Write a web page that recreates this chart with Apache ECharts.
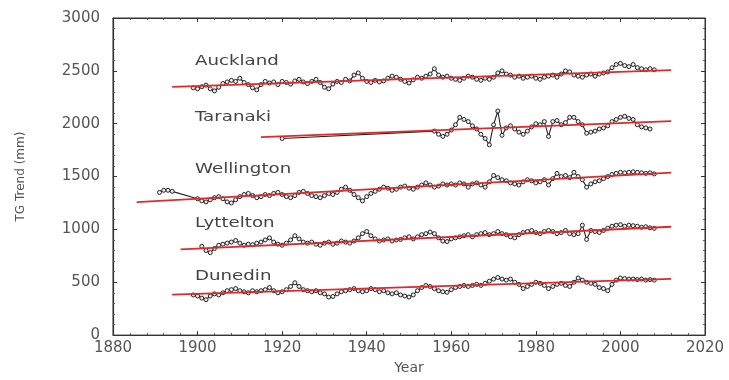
<!DOCTYPE html>
<html><head><meta charset="utf-8">
<script src="https://cdn.jsdelivr.net/npm/echarts@6/dist/echarts.min.js"></script>
<style>html,body{margin:0;padding:0;background:#fff}#c{width:729px;height:380px}</style>
</head><body><div id="c"></div>
<script>
// ---- data ----
const stationNames = ["Auckland", "Taranaki", "Wellington", "Lyttelton", "Dunedin"];

const aucklandStart = 1899;
const aucklandValues = [2340,2330,2350,2365,2330,2310,2345,2380,2395,2410,2400,2430,2390,2370,2340,2320,2370,2400,2385,2395,
2370,2400,2390,2375,2405,2420,2395,2380,2400,2420,2390,2345,2330,2375,2400,2390,2420,2405,2460,2480,
2430,2400,2390,2410,2395,2405,2430,2450,2440,2420,2400,2385,2415,2440,2430,2450,2470,2520,2460,2440,
2450,2430,2420,2410,2430,2450,2440,2420,2410,2430,2420,2440,2480,2500,2470,2460,2440,2450,2430,2440,
2450,2430,2420,2440,2450,2460,2440,2470,2500,2490,2460,2450,2440,2460,2470,2450,2470,2480,2490,2530,
2560,2570,2550,2540,2560,2530,2520,2510,2520,2510];

const taranakiYears = [1920,1956,1957,1958,1959,1960,1961,1962,1963,1964,1965,1966,1967,1968,1969,1970,1971,1972,1973,1974,1975,
1976,1977,1978,1979,1980,1981,1982,1983,1984,1985,1986,1987,1988,1989,1990,1991,1992,1993,1994,1995,1996,1997,1998,1999,
2000,2001,2002,2003,2004,2005,2006,2007];
const taranakiValues = [1860,1930,1900,1880,1900,1940,1990,2060,2040,2020,1980,1950,1900,1860,1800,1990,2120,1890,1960,1980,1950,
1920,1900,1930,1970,2000,1990,2020,1880,2020,2030,1990,2010,2060,2060,2020,1990,1910,1920,1930,1950,1960,1980,2020,2040,
2060,2070,2050,2040,1990,1970,1960,1950];

const wellingtonEarlyYears = [1891,1892,1893,1894];
const wellingtonEarlyValues = [1350,1370,1370,1360];
const wellingtonStart = 1900;
const wellingtonValues = [1290,1270,1260,1280,1300,1310,1290,1260,1250,1280,1310,1330,1340,1320,1300,1310,1330,1320,1340,1350,
1330,1310,1300,1320,1350,1360,1340,1320,1310,1300,1320,1340,1330,1350,1380,1400,1370,1330,1300,1270,
1310,1340,1360,1380,1400,1390,1370,1380,1400,1410,1390,1380,1400,1420,1440,1420,1400,1410,1430,1420,
1430,1420,1440,1430,1400,1430,1440,1420,1400,1450,1510,1490,1470,1460,1440,1430,1420,1450,1470,1460,
1440,1450,1470,1420,1480,1530,1500,1510,1490,1540,1500,1470,1400,1430,1450,1460,1480,1500,1520,1530,
1540,1535,1540,1545,1540,1535,1530,1535,1525];

const lytteltonStart = 1901;
const lytteltonValues = [840,800,780,820,850,860,870,880,895,870,850,860,855,870,880,900,920,880,860,850,
870,900,940,910,880,870,880,860,850,870,880,860,870,890,880,870,890,920,960,980,
940,910,890,900,910,890,900,905,920,930,910,930,950,960,975,960,920,890,885,910,
920,930,940,950,930,950,960,970,950,960,980,960,950,930,920,950,970,980,990,970,
960,980,990,980,960,970,990,960,950,960,1040,905,990,980,970,990,1010,1030,1040,1045,
1030,1040,1035,1030,1020,1025,1015,1010];

const dunedinStart = 1899;
const dunedinValues = [380,370,350,335,370,390,380,400,420,430,440,420,410,400,420,410,420,430,450,420,
400,410,430,460,495,460,430,420,410,420,400,390,360,365,390,410,420,430,440,420,
410,420,440,430,410,420,400,390,400,380,370,360,380,420,450,470,460,440,420,410,
405,430,450,460,470,460,470,480,470,490,510,530,545,530,520,530,500,480,440,460,
480,500,490,470,440,460,480,490,470,460,500,540,520,500,490,480,450,440,420,480,
520,540,535,530,530,525,530,520,525,520];

// trend lines: [startYear, startValue, endYear, endValue]
const aucklandTrend = [1894, 2348, 2012, 2507];
const taranakiTrend = [1915, 1873, 2012, 2025];
const wellingtonTrend = [1885.6, 1258, 2012, 1538];
const lytteltonTrend = [1896, 811, 2012, 1025];
const dunedinTrend = [1894, 382, 2012, 531];

const xTicks = [1880, 1900, 1920, 1940, 1960, 1980, 2000, 2020];
const yTicks = [0, 500, 1000, 1500, 2000, 2500, 3000];

// ---- build ----
function pairsFromStart(start, vals){ return vals.map((v,i)=>[start+i, v]); }
function pairs(years, vals){ return years.map((y,i)=>[y, vals[i]]); }
function trendPairs(t){ return [[t[0],t[1]],[t[2],t[3]]]; }

const stationData = [
  pairsFromStart(aucklandStart, aucklandValues),
  pairs(taranakiYears, taranakiValues),
  pairs(wellingtonEarlyYears, wellingtonEarlyValues).concat(pairsFromStart(wellingtonStart, wellingtonValues)),
  pairsFromStart(lytteltonStart, lytteltonValues),
  pairsFromStart(dunedinStart, dunedinValues)
];
const trends = [aucklandTrend, taranakiTrend, wellingtonTrend, lytteltonTrend, dunedinTrend].map(trendPairs);

const series = [];
stationData.forEach((d, i) => {
  series.push({
    type: 'line', name: stationNames[i], data: d, xAxisIndex: 0, yAxisIndex: 0,
    symbol: 'circle', symbolSize: 4, showAllSymbol: true,
    lineStyle: { color: '#222', width: 1.1 },
    itemStyle: { color: '#eee', borderColor: '#222', borderWidth: 1 },
    silent: true, animation: false, z: 2
  });
});
trends.forEach((d, i) => {
  series.push({
    type: 'line', name: stationNames[i] + ' trend', data: d, xAxisIndex: 0, yAxisIndex: 0,
    symbol: 'none', lineStyle: { color: '#dc2a2e', width: 1.8 },
    silent: true, animation: false, z: 3
  });
});

const labelFont = '"DejaVu Sans", Verdana, sans-serif';
const labelPos = [[195,54],[195,110],[195,162],[195,216],[195,269]];
const plain = v => String(v);

const chart = echarts.init(document.getElementById('c'));
chart.setOption({
  backgroundColor: '#fff',
  animation: false,
  grid: { left: 113, right: 24, top: 18, bottom: 40, show: true, borderColor: '#333', borderWidth: 1, backgroundColor: 'transparent' },
  xAxis: [{
    type: 'value', min: xTicks[0], max: xTicks[xTicks.length-1], interval: 20,
    name: 'Year', nameLocation: 'middle', nameGap: 24,
    nameTextStyle: { color: '#555', fontSize: 14, fontFamily: labelFont },
    axisLine: { show: true, onZero: false, lineStyle: { color: '#333', width: 1.2 } },
    axisTick: { inside: true, length: 4, lineStyle: { color: '#333' } },
    minorTick: { show: true, splitNumber: 5, length: 2, lineStyle: { color: '#555' } },
    splitLine: { show: false },
    axisLabel: { color: '#555', fontSize: 15, fontFamily: labelFont, margin: 6, formatter: plain }
  },{
    type: 'value', position: 'top', min: xTicks[0], max: xTicks[xTicks.length-1], interval: 20,
    axisLine: { show: true, onZero: false, lineStyle: { color: '#333', width: 1 } },
    axisTick: { show: true, inside: true, length: 4, lineStyle: { color: '#333' } },
    minorTick: { show: true, splitNumber: 5, length: 2, lineStyle: { color: '#555' } },
    splitLine: { show: false }, axisLabel: { show: false }
  }],
  yAxis: [{
    type: 'value', min: yTicks[0], max: yTicks[yTicks.length-1], interval: 500,
    name: 'TG Trend (mm)', nameLocation: 'middle', nameGap: 86,
    nameTextStyle: { color: '#555', fontSize: 12, fontFamily: labelFont },
    axisLine: { show: true, onZero: false, lineStyle: { color: '#333', width: 1.2 } },
    axisTick: { show: true, inside: true, length: 4, lineStyle: { color: '#333' } },
    minorTick: { show: true, splitNumber: 5, length: 2, lineStyle: { color: '#555' } },
    splitLine: { show: false },
    axisLabel: { color: '#555', fontSize: 15, fontFamily: labelFont, margin: 13, formatter: plain }
  },{
    type: 'value', position: 'right', min: yTicks[0], max: yTicks[yTicks.length-1], interval: 500,
    axisLine: { show: true, onZero: false, lineStyle: { color: '#333', width: 1 } },
    axisTick: { show: true, inside: true, length: 4, lineStyle: { color: '#333' } },
    minorTick: { show: true, splitNumber: 5, length: 2, lineStyle: { color: '#555' } },
    splitLine: { show: false }, axisLabel: { show: false }
  }],
  graphic: stationNames.map((n, i) => ({
    type: 'text', x: labelPos[i][0], y: labelPos[i][1], scaleX: 1.3,
    style: { text: n, fill: '#444', font: '14px ' + labelFont }
  })),
  series: series
});
</script>
</body></html>
